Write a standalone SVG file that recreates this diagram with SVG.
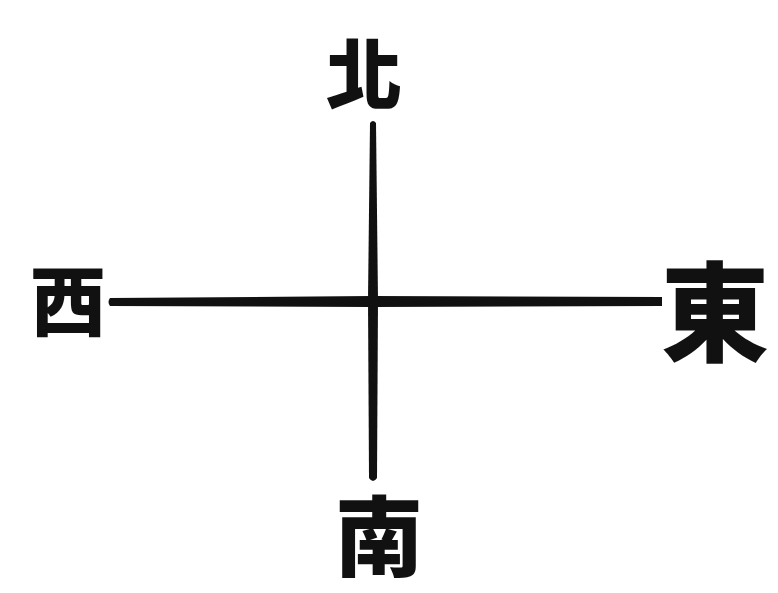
<svg xmlns="http://www.w3.org/2000/svg" width="778" height="593" viewBox="0 0 778 593">
<style>
.lbl{font-family:"Noto Sans CJK TC","Noto Sans CJK SC",sans-serif;font-weight:900;fill:#111;text-anchor:middle;dominant-baseline:central}
.ln{fill:#111}
</style>
<rect width="778" height="593" fill="#fff"/>
<g id="connectors">
<path class="ln" d="M370,123 Q373,119 376,123 L378,300 L377,478 Q373,484 369,478 L368,300 Z"/>
<path class="ln" d="M110,298 Q107,302 110,306 L372,307 L662,306 L662,297 L372,296 Z"/>
</g>
<g id="north"><text class="lbl" x="364" y="70" font-size="76">北</text></g>
<g id="west"><text class="lbl" x="68" y="297" font-size="76">西</text></g>
<g id="east"><text class="lbl" x="715" y="306" font-size="108">東</text></g>
<g id="south"><text class="lbl" x="379" y="530" font-size="88">南</text></g>
</svg>
